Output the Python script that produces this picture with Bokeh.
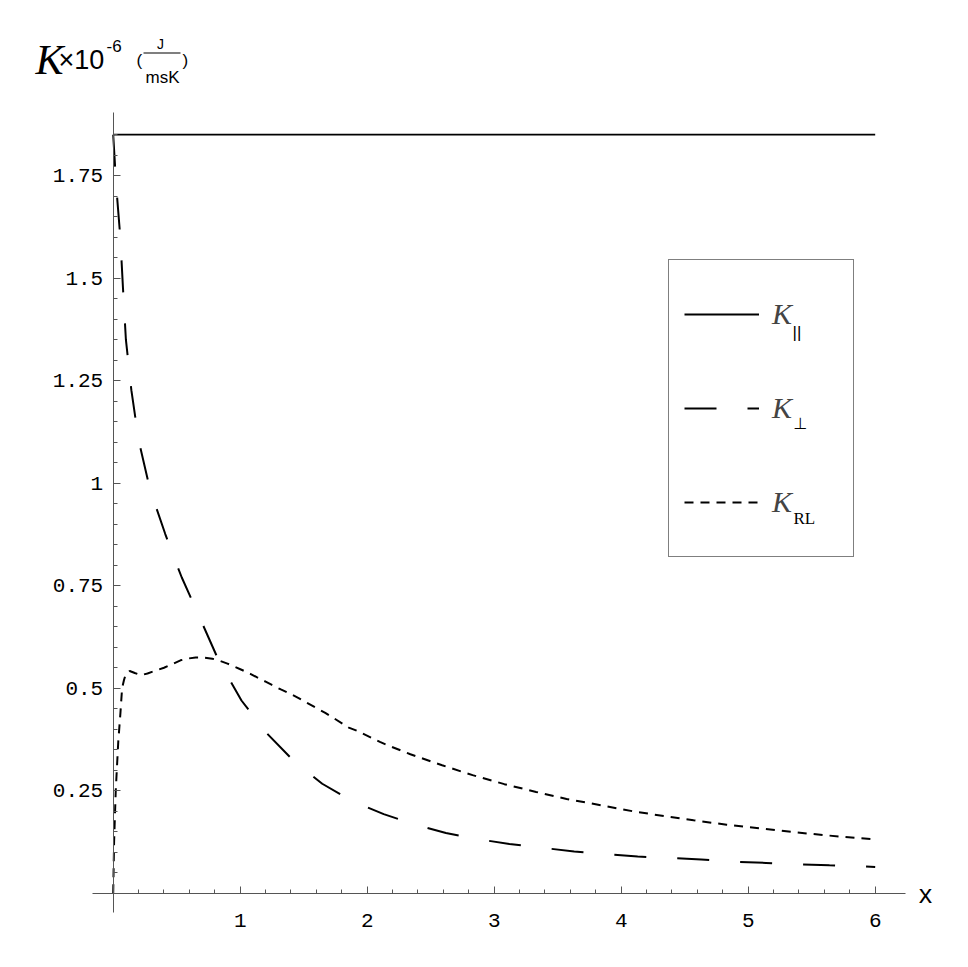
from bokeh.plotting import figure
from bokeh.models import (Range1d, FixedTicker, Legend, LegendItem, Label,
                          BoxAnnotation, CustomJSTickFormatter)
from bokeh.embed import file_html
from bokeh.resources import INLINE

# ---------------- data ----------------
x_par = [0.0, 6.0]
k_par = [1.85, 1.85]

x_perp = [0.0, 0.025, 0.056, 0.077, 0.10, 0.143, 0.20, 0.29, 0.41, 0.49,
          0.54, 0.69, 0.83, 1.01, 1.21, 1.42, 1.646, 1.88, 2.13, 2.37,
          2.62, 2.87, 3.12, 3.37, 3.63, 3.88, 4.13, 4.38, 4.63, 4.88,
          5.14, 5.39, 5.64, 5.89, 6.0]
k_perp = [1.85, 1.72, 1.60, 1.476, 1.35, 1.227, 1.105, 0.985, 0.876, 0.81,
          0.77, 0.666, 0.568, 0.47, 0.39, 0.323, 0.267, 0.225, 0.193, 0.168,
          0.147, 0.132, 0.120, 0.111, 0.102, 0.095, 0.0895, 0.086, 0.082, 0.077,
          0.074, 0.0707, 0.068, 0.066, 0.064]

x_rl = [0.0, 0.007, 0.02, 0.04, 0.057, 0.07, 0.085, 0.10, 0.13, 0.17,
        0.22, 0.27, 0.40, 0.46, 0.53, 0.58, 0.65, 0.71, 0.78, 0.83,
        0.90, 0.96, 1.01, 1.08, 1.13, 1.20, 1.25, 1.32, 1.39, 1.46,
        1.61, 1.67, 1.855, 1.92, 2.10, 2.16, 2.34, 2.59, 2.83, 3.08,
        3.33, 3.57, 3.84, 4.09, 4.34, 4.57, 4.83, 5.10, 5.36, 5.62,
        6.0]
k_rl = [0.0, 0.125, 0.25, 0.37, 0.44, 0.50, 0.52, 0.535, 0.542, 0.537,
        0.532, 0.536, 0.55, 0.558, 0.568, 0.572, 0.575, 0.575, 0.572, 0.568,
        0.56, 0.552, 0.545, 0.535, 0.527, 0.516, 0.508, 0.497, 0.487, 0.476,
        0.45, 0.44, 0.404, 0.396, 0.369, 0.361, 0.339, 0.312, 0.288, 0.266,
        0.247, 0.23, 0.2145, 0.2, 0.188, 0.178, 0.167, 0.158, 0.149, 0.141,
        0.131]

x_major_ticks = [1, 2, 3, 4, 5, 6]
x_minor_ticks = [round(0.2 * i, 2) for i in range(1, 31)]
y_major_ticks = [0.25, 0.5, 0.75, 1.0, 1.25, 1.5, 1.75]
y_minor_ticks = [round(0.05 * i, 2) for i in range(1, 38)]

legend_labels = ["K", "K", "K"]
legend_subs = ["||", "\u22a5", "RL"]

# ---------------- figure ----------------
W, H = 960, 960
p = figure(width=W, height=H,
           x_range=Range1d(-0.8874, 6.6717), y_range=Range1d(-0.1641, 2.1773),
           output_backend="svg", toolbar_location=None,
           min_border_left=0, min_border_right=0,
           min_border_top=0, min_border_bottom=0)
p.xgrid.visible = False
p.ygrid.visible = False
p.outline_line_color = None
p.background_fill_color = "white"
p.border_fill_color = "white"

axis_col = "#555555"
for ax in (p.xaxis[0], p.yaxis[0]):
    ax.fixed_location = 0
    ax.axis_line_color = axis_col
    ax.axis_line_width = 1
    ax.major_tick_line_color = axis_col
    ax.minor_tick_line_color = axis_col
    ax.major_tick_out = 0
    ax.minor_tick_out = 0
    ax.major_tick_in = 7
    ax.minor_tick_in = 4
    ax.major_label_text_font = "Liberation Mono"
    ax.major_label_text_font_size = "21px"
    ax.major_label_text_color = "black"
    ax.formatter = CustomJSTickFormatter(code="return tick.toString();")

p.xaxis[0].bounds = (-0.16, 6.24)
p.yaxis[0].bounds = (-0.047, 1.904)
p.xaxis[0].ticker = FixedTicker(ticks=x_major_ticks, minor_ticks=x_minor_ticks)
p.yaxis[0].ticker = FixedTicker(ticks=y_major_ticks, minor_ticks=y_minor_ticks)
p.xaxis[0].major_label_standoff = 21
p.yaxis[0].major_label_standoff = 10

r_par = p.line(x_par, k_par, line_color="black", line_width=1.8)
r_perp = p.line(x_perp, k_perp, line_color="black", line_width=2, line_dash="32 31")
r_rl = p.line(x_rl, k_rl, line_color="black", line_width=2, line_dash="9 7")

legend = Legend(items=[LegendItem(label=legend_labels[0], renderers=[r_par]),
                       LegendItem(label=legend_labels[1], renderers=[r_perp]),
                       LegendItem(label=legend_labels[2], renderers=[r_rl])],
                location=(668, 403), glyph_width=75, glyph_height=78,
                label_height=78, label_width=66, label_standoff=13,
                spacing=16, padding=15, margin=0,
                border_line_color="black", border_line_width=1.3,
                background_fill_alpha=0,
                label_text_font="Liberation Serif", label_text_font_style="italic",
                label_text_font_size="30px")
p.add_layout(legend)

def lab(text, px, py, font, size, style="normal", align="left", base="alphabetic"):
    # px, py: page pixel position (top-left origin) -> screen units (bottom-left origin)
    p.add_layout(Label(x=px, y=H - py, x_units="screen", y_units="screen", text=text,
                       text_font=font, text_font_size=size, text_font_style=style,
                       text_align=align, text_baseline=base, text_color="black",
                       level="overlay"))

# legend subscripts
lab(legend_subs[0], 792, 332, "Liberation Sans", "17px")
lab(legend_subs[1], 793, 423, "DejaVu Sans", "16px")
lab(legend_subs[2], 793, 518, "Liberation Serif", "17px")

# title (top-left)
lab("K", 35, 59, "Liberation Serif", "42px", style="italic")
lab("\u00d710", 58, 59, "Liberation Sans", "27px")
lab("-6", 106, 45, "Liberation Sans", "17px")
lab("(", 136, 60, "Liberation Sans", "17px")
lab("J", 160, 43, "Liberation Sans", "14px", align="center")
lab("msK", 162, 77, "Liberation Sans", "17px", align="center")
lab(")", 182, 60, "Liberation Sans", "17px")
p.add_layout(BoxAnnotation(left=143, right=180, bottom=H - 53, top=H - 52,
                           left_units="screen", right_units="screen",
                           bottom_units="screen", top_units="screen",
                           fill_color="black", fill_alpha=1, line_color=None,
                           level="overlay"))

# x axis label
lab("x", 925, 896, "Liberation Mono", "25px", align="center", base="middle")

open("out.html", "w").write(file_html(p, INLINE))
